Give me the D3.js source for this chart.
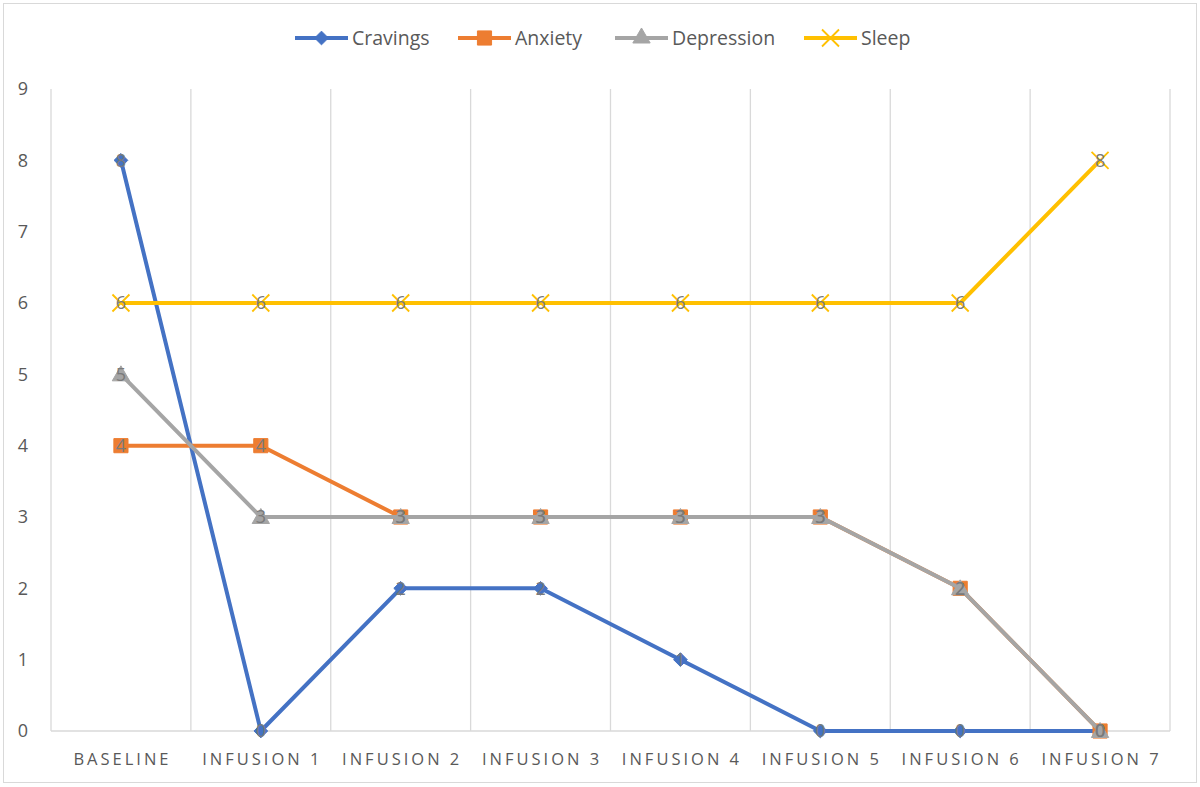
<html>
<head>
<meta charset="utf-8">
<script src="https://d3js.org/d3.v7.min.js"></script>
<style>
body { margin:0; background:#fff; }
svg { font-family: "Open Sans", "Noto Sans", sans-serif; }
.tick-y { font-size:18px; fill:#595959; }
.tick-x { font-size:16.5px; fill:#595959; letter-spacing:3px; }
.legend-text { font-size:19.5px; fill:#595959; }
.dlabel { font-size:18px; fill:#7a7a7a; }
</style>
</head>
<body>
<svg id="chart" width="1200" height="787"></svg>
<script>
// data
const categories = ["BASELINE", "INFUSION 1", "INFUSION 2", "INFUSION 3", "INFUSION 4", "INFUSION 5", "INFUSION 6", "INFUSION 7"];
const cravings   = [8, 0, 2, 2, 1, 0, 0, 0];
const anxiety    = [4, 4, 3, 3, 3, 3, 2, 0];
const depression = [5, 3, 3, 3, 3, 3, 2, 0];
const sleep      = [6, 6, 6, 6, 6, 6, 6, 8];
const yTicks = [0, 1, 2, 3, 4, 5, 6, 7, 8, 9];

const series = [
  {name: "Cravings",   values: cravings,   color: "#4472C4", marker: "diamond"},
  {name: "Anxiety",    values: anxiety,    color: "#ED7D31", marker: "square"},
  {name: "Depression", values: depression, color: "#A5A5A5", marker: "triangle"},
  {name: "Sleep",      values: sleep,      color: "#FFC000", marker: "x"}
];

const svg = d3.select("#chart");

// outer frame
svg.append("rect").attr("x", 3.5).attr("y", 3.5).attr("width", 1193).attr("height", 779)
  .attr("fill", "none").attr("stroke", "#d9d9d9").attr("stroke-width", 1);

const pLeft = 51, pRight = 1170, pTop = 89, pBottom = 731;

const x = d3.scaleBand().domain(categories).range([pLeft, pRight]);
const y = d3.scaleLinear().domain([0, 9]).range([pBottom, pTop]);

// vertical grid lines at band edges
const edges = categories.map(c => x(c)).concat([pRight]);
svg.append("g").selectAll("line").data(edges).enter().append("line")
  .attr("x1", d => d).attr("x2", d => d)
  .attr("y1", pTop).attr("y2", pBottom)
  .attr("stroke", "#d9d9d9").attr("stroke-width", 1.3);

// x axis line
svg.append("line").attr("x1", pLeft).attr("x2", pRight).attr("y1", pBottom).attr("y2", pBottom)
  .attr("stroke", "#d9d9d9").attr("stroke-width", 1.3);

// y tick labels
svg.append("g").selectAll("text").data(yTicks).enter().append("text")
  .attr("class", "tick-y")
  .attr("x", 23).attr("y", d => y(d)).attr("dy", "0.36em")
  .attr("text-anchor", "middle")
  .text(d => d);

// x tick labels
svg.append("g").selectAll("text").data(categories).enter().append("text")
  .attr("class", "tick-x")
  .attr("x", d => x(d) + x.bandwidth() / 2 + 1.5).attr("y", 765)
  .attr("text-anchor", "middle")
  .text(d => d);

const line = d3.line()
  .x((d, i) => x(categories[i]) + x.bandwidth() / 2)
  .y(d => y(d));

function markerPath(type) {
  if (type === "diamond") return d3.symbol().type(d3.symbolDiamond2).size(120)();
  if (type === "square") return d3.symbol().type(d3.symbolSquare).size(200)();
  if (type === "triangle") return d3.symbol().type(d3.symbolTriangle).size(130)();
  return d3.symbol().type(d3.symbolX).size(190)();
}

series.forEach(function(s) {
  const g = svg.append("g");
  g.append("path").datum(s.values)
    .attr("d", line)
    .attr("fill", "none")
    .attr("stroke", s.color)
    .attr("stroke-width", 4)
    .attr("stroke-linejoin", "round");
  g.selectAll("path.mk").data(s.values).enter().append("path")
    .attr("class", "mk")
    .attr("d", markerPath(s.marker))
    .attr("transform", (d, i) => "translate(" + (x(categories[i]) + x.bandwidth() / 2) + "," + (y(d) + (s.marker === "triangle" ? 1.5 : 0)) + ")")
    .attr("fill", s.marker === "x" ? "none" : s.color)
    .attr("stroke", s.color)
    .attr("stroke-width", s.marker === "x" ? 1.8 : 1);
});

// data labels
series.forEach(function(s) {
  svg.append("g").selectAll("text").data(s.values).enter().append("text")
    .attr("class", "dlabel")
    .attr("x", (d, i) => x(categories[i]) + x.bandwidth() / 2)
    .attr("y", d => y(d)).attr("dy", "0.36em")
    .attr("text-anchor", "middle")
    .text(d => d);
});

// legend
const legendPos = [295, 458, 615, 804];
const lg = svg.append("g");
series.forEach(function(s, i) {
  const lx = legendPos[i], ly = 38;
  lg.append("line").attr("x1", lx).attr("x2", lx + 53).attr("y1", ly).attr("y2", ly)
    .attr("stroke", s.color).attr("stroke-width", 4);
  lg.append("path").attr("d", markerPath(s.marker))
    .attr("transform", "translate(" + (lx + 26.5) + "," + ly + ")")
    .attr("fill", s.marker === "x" ? "none" : s.color)
    .attr("stroke", s.color)
    .attr("stroke-width", s.marker === "x" ? 1.8 : 1);
  lg.append("text").attr("class", "legend-text")
    .attr("x", lx + 57).attr("y", ly).attr("dy", "0.36em")
    .text(s.name);
});
</script>
</body>
</html>
